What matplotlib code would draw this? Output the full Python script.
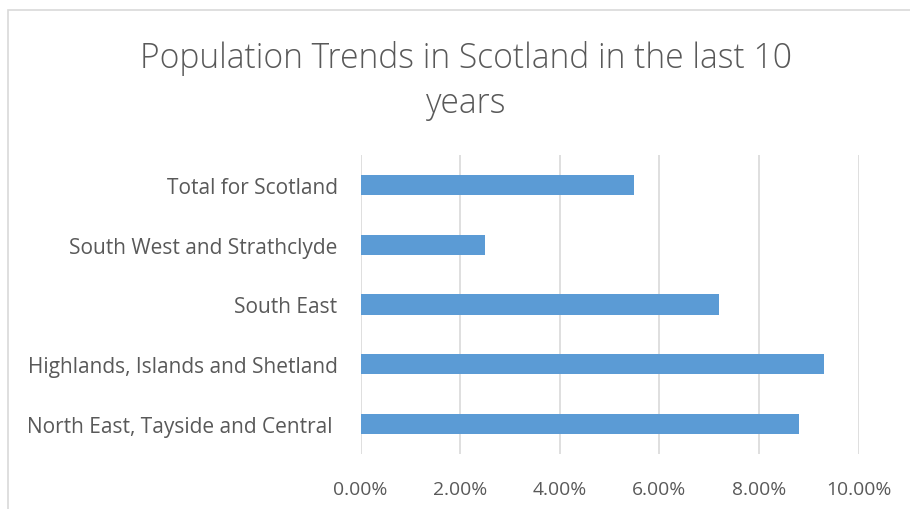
import matplotlib
matplotlib.use("Agg")
import matplotlib.pyplot as plt
from matplotlib.patches import Rectangle
from matplotlib.ticker import FuncFormatter

categories = ["North East, Tayside and Central ", "Highlands, Islands and Shetland",
              "South East", "South West and Strathclyde", "Total for Scotland"]
values = [0.088, 0.093, 0.072, 0.025, 0.055]
xticks = [0, 0.02, 0.04, 0.06, 0.08, 0.10]

W, H = 910, 510
fig = plt.figure(figsize=(W/100, H/100), dpi=100)
fig.patch.set_facecolor("white")

# chart border
fig.patches.append(Rectangle((8/W, -0.1), 1.2, (H-11)/H + 0.1, transform=fig.transFigure,
                             fill=False, edgecolor="#D9D9D9", linewidth=1.2))

ax = fig.add_axes([360.5/W, 1-455/H, (858.5-360.5)/W, (455-156)/H])
ax.barh(range(len(categories)), values, height=0.34, color="#5B9BD5", zorder=3)
ax.set_xlim(0, 0.10)
ax.set_ylim(-0.5, len(categories)-0.5)
ax.set_xticks(xticks)
ax.xaxis.set_major_formatter(FuncFormatter(lambda v, p: f"{v*100:.2f}%"))
ax.set_yticks(range(len(categories)))
ax.set_yticklabels(categories)
ax.grid(axis="x", color="#D9D9D9", linewidth=1.2, zorder=0)
for s in ax.spines.values():
    s.set_visible(False)
ax.tick_params(axis="both", length=0, colors="#595959")
ax.tick_params(axis="x", pad=19, labelsize=13.9)
ax.tick_params(axis="y", pad=16.5, labelsize=15)
for lbl in ax.get_xticklabels() + ax.get_yticklabels():
    lbl.set_fontfamily("Open Sans")
    lbl.set_color("#595959")

fig.text(466/W, 1-59/H, "Population Trends in Scotland in the last 10", ha="center", va="center",
         fontsize=24.2, color="#595959", fontfamily="Open Sans", fontweight="light")
fig.text(466/W, 1-104/H, "years", ha="center", va="center",
         fontsize=24.2, color="#595959", fontfamily="Open Sans", fontweight="light")

fig.savefig("out.png", dpi=100)
